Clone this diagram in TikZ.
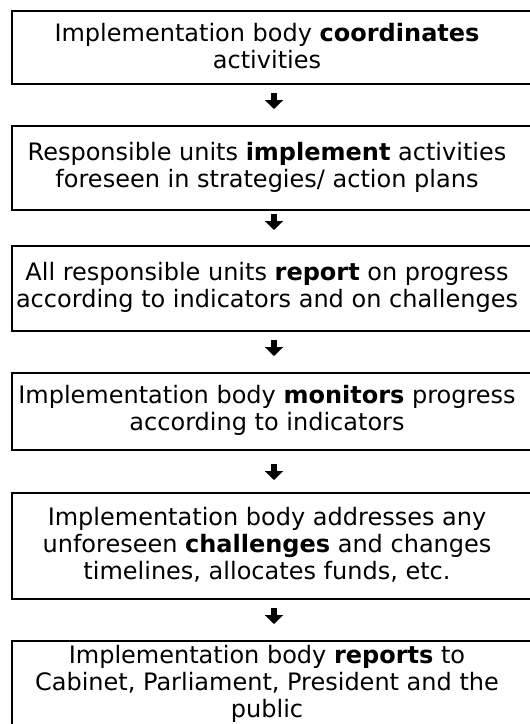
\documentclass[tikz,border=0pt]{standalone}
\usepackage{fontspec}
\setmainfont{DejaVu Sans}
\usetikzlibrary{arrows.meta}
\tikzset{
  frame/.style={draw, line width=1.8pt, minimum width=540pt, anchor=north west, inner sep=0pt},
  txt/.style={align=center, inner sep=0pt, font=\fontsize{24pt}{27pt}\selectfont},
  conn/.style={line width=6pt, -{Triangle[width=18pt,length=9pt]}}
}
\begin{document}
\begin{tikzpicture}[x=1pt,y=-1pt]
\clip (0,0) rectangle (530,724);
% frames
\node[frame, minimum height=73pt] (f1) at (11,10) {};
\node[frame, minimum height=84pt] (f2) at (11,125) {};
\node[frame, minimum height=85pt] (f3) at (11,245) {};
\node[frame, minimum height=77pt] (f4) at (11,372) {};
\node[frame, minimum height=106pt] (f5) at (11,492) {};
\node[frame, minimum height=100pt] (f6) at (11,640) {};
% texts
\node[txt] (t1) at (267,46.5) {Implementation body \textbf{coordinates}\\activities};
\node[txt] (t2) at (267,167) {Responsible units \textbf{implement} activities\\foreseen in strategies/ action plans};
\node[txt] (t3) at (267,287.5) {All responsible units \textbf{report} on progress\\according to indicators and on challenges};
\node[txt] (t4) at (267,410.5) {Implementation body \textbf{monitors} progress\\according to indicators};
\node[txt] (t5) at (267,545) {Implementation body addresses any\\unforeseen \textbf{challenges} and changes\\timelines, allocates funds, etc.};
\node[txt] (t6) at (267,684) {Implementation body \textbf{reports} to\\Cabinet, Parliament, President and the\\public};
% arrows
\coordinate (a1s) at (274,93);  \coordinate (a1e) at (274,109);
\coordinate (a2s) at (274,214); \coordinate (a2e) at (274,230);
\coordinate (a3s) at (274,340); \coordinate (a3e) at (274,356);
\coordinate (a4s) at (274,464); \coordinate (a4e) at (274,480);
\coordinate (a5s) at (274,608); \coordinate (a5e) at (274,624);
\draw[conn] (a1s) -- (a1e);
\draw[conn] (a2s) -- (a2e);
\draw[conn] (a3s) -- (a3e);
\draw[conn] (a4s) -- (a4e);
\draw[conn] (a5s) -- (a5e);
\end{tikzpicture}
\end{document}
